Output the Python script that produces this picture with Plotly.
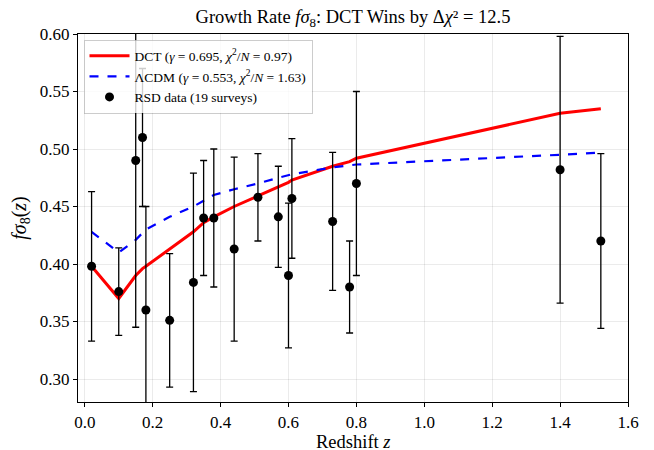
import plotly.graph_objects as go

# Data
z_data = [0.02, 0.10, 0.15, 0.17, 0.18, 0.25, 0.32, 0.35, 0.38, 0.44,
          0.51, 0.57, 0.60, 0.61, 0.73, 0.78, 0.80, 1.40, 1.52]
fs8_data = [0.398, 0.376, 0.490, 0.510, 0.360, 0.351, 0.384, 0.440, 0.440, 0.413,
            0.458, 0.441, 0.390, 0.457, 0.437, 0.380, 0.470, 0.482, 0.420]
fs8_err = [0.065, 0.038, 0.145, 0.060, 0.090, 0.058, 0.095, 0.050, 0.060, 0.080,
           0.038, 0.044, 0.063, 0.052, 0.060, 0.040, 0.080, 0.116, 0.076]

fs8_dct = [0.398, 0.370, 0.390, 0.396, 0.398, 0.413, 0.428, 0.436, 0.441, 0.450,
           0.459, 0.467, 0.471, 0.473, 0.485, 0.489, 0.492, 0.531, 0.535]
fs8_lcdm = [0.428, 0.410, 0.421, 0.427, 0.430, 0.441, 0.450, 0.455, 0.460, 0.465,
            0.470, 0.475, 0.477, 0.478, 0.484, 0.486, 0.4865, 0.495, 0.497]

x_ticks = [0.0, 0.2, 0.4, 0.6, 0.8, 1.0, 1.2, 1.4, 1.6]
y_ticks = [0.30, 0.35, 0.40, 0.45, 0.50, 0.55, 0.60]

FONT = "Liberation Serif"

fig = go.Figure()
fig.add_trace(go.Scatter(
    x=z_data, y=fs8_dct, mode="lines",
    line=dict(color="red", width=3),
    name="DCT (<i>γ</i> = 0.695, <i>χ</i><sup>2</sup>/<i>N</i> = 0.97)"))
fig.add_trace(go.Scatter(
    x=z_data, y=fs8_lcdm, mode="lines",
    line=dict(color="blue", width=2.2, dash="dash"),
    name="ΛCDM (<i>γ</i> = 0.553, <i>χ</i><sup>2</sup>/<i>N</i> = 1.63)"))
fig.add_trace(go.Scatter(
    x=z_data, y=fs8_data, mode="markers",
    marker=dict(color="black", size=9),
    error_y=dict(type="data", array=fs8_err, visible=True,
                 color="black", thickness=1.3, width=3.5),
    name="RSD data (19 surveys)"))

axis_common = dict(
    showline=True, linecolor="black", linewidth=1.3, mirror=True,
    ticks="outside", ticklen=4, tickwidth=1.1, tickcolor="black",
    showgrid=True, gridcolor="rgba(0,0,0,0.08)", gridwidth=1,
    zeroline=False, automargin=False,
    tickfont=dict(family=FONT, size=17, color="black"),
)

fig.update_layout(
    width=646, height=442,
    paper_bgcolor="white", plot_bgcolor="white",
    margin=dict(l=70, r=26, t=26, b=48),
    title=dict(text="Growth Rate <i>fσ</i><sub>8</sub>: DCT Wins by Δ<i>χ</i>² = 12.5",
               x=0.5, xref="paper", xanchor="center",
               y=1 - 9 / 442, yref="container", yanchor="middle",
               font=dict(family=FONT, size=18.5, color="black")),
    xaxis=dict(range=[-0.02, 1.6], tickvals=x_ticks,
               ticktext=[f"{v:.1f}" for v in x_ticks],
               **axis_common),
    yaxis=dict(range=[0.28, 0.60], tickvals=y_ticks,
               ticktext=[f"{v:.2f}" for v in y_ticks],
               title=dict(text="<i>fσ</i><sub>8</sub>(<i>z</i>)", standoff=8,
                          font=dict(family=FONT, size=20, color="black")),
               **axis_common),
    legend=dict(x=0.01, y=0.985, xanchor="left", yanchor="top",
                bgcolor="rgba(255,255,255,0.8)", bordercolor="rgba(0,0,0,0.2)",
                borderwidth=1, font=dict(family=FONT, size=13.5, color="black"),
                itemwidth=40, tracegroupgap=0),
    showlegend=True,
)
fig.add_annotation(text="Redshift <i>z</i>", xref="paper", yref="paper",
                   x=0.5, y=0, xanchor="center", yanchor="top",
                   yshift=-28, showarrow=False,
                   font=dict(family=FONT, size=18.5, color="black"))

fig.write_html("out.html")
